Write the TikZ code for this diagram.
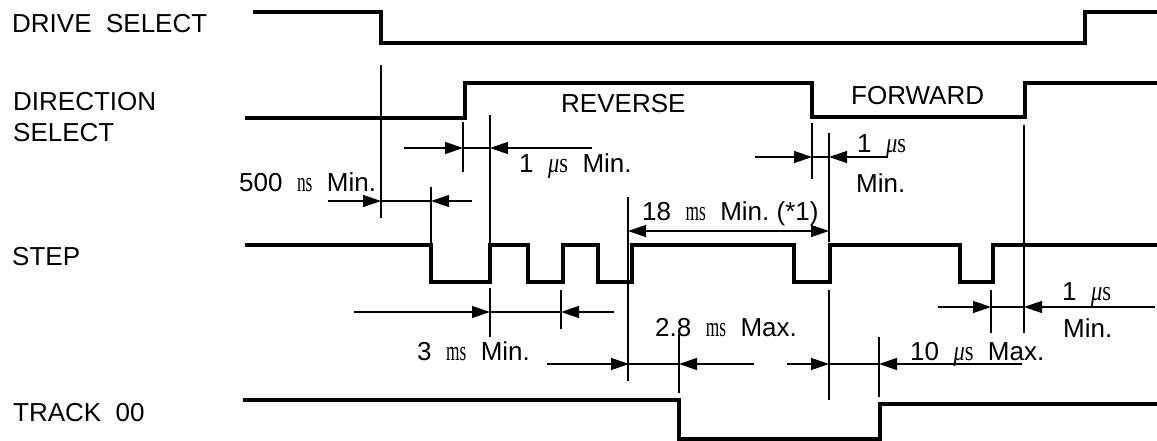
\documentclass[tikz,border=0pt]{standalone}
\usepackage{fontspec}
\setmainfont{Liberation Sans}
\newfontfamily\unitfont{Liberation Serif}
\usepackage{graphicx}
\usetikzlibrary{arrows.meta}

\newcommand{\unitms}{\scalebox{0.62}[1]{\unitfont\fontsize{28}{28}\selectfont ms}}
\newcommand{\unitns}{\scalebox{0.62}[1]{\unitfont\fontsize{28}{28}\selectfont ns}}
\newcommand{\unitus}{\scalebox{0.8}[1]{\unitfont\fontsize{28}{28}\selectfont\itshape μ\upshape s}}

\begin{document}
\begin{tikzpicture}[x=1pt,y=-1pt,
    sig/.style={line width=3.6pt},
    dim/.style={line width=1.3pt},
    tip/.style={dim,-{Triangle[length=18pt,width=12pt]}},
    lbl/.style={anchor=base west,inner sep=0pt,font=\fontsize{26}{30}\selectfont}]

    \useasboundingbox (0,0) rectangle (1157,441);

    % signal names
    \node[lbl] (drive) at (12,33) {DRIVE\ \ SELECT};
    \node[lbl] (dir) at (13,111) {DIRECTION};
    \node[lbl] (dirsel) at (13,142) {SELECT};
    \node[lbl] (step) at (12,265) {STEP};
    \node[lbl] (track) at (13,421) {TRACK\ \ 00};

    % waveforms
    \draw[sig] (253,12) -- (381,12) -- (381,43) -- (1085,43) -- (1085,12) -- (1157,12);
    \draw[sig] (245,118) -- (465,118) -- (465,83) -- (812,83) -- (812,117)
        -- (1025,117) -- (1025,83) -- (1157,83);
    \draw[sig] (245,245) foreach \a/\b in {431/490,528/563,598/632,794/830,960/993} {
        -- (\a,245) -- (\a,282) -- (\b,282) -- (\b,245) } -- (1157,245);
    \draw[sig] (243,400) -- (679,400) -- (679,439) -- (880,439) -- (880,404) -- (1157,404);

    \node[lbl] (rev) at (561,113) {REVERSE};
    \node[lbl] (fwd) at (851,105) {FORWARD};

    % extension lines
    \foreach \x/\ya/\yb in {381/65/218, 431/187/243, 463/122/172, 490/115/243,
        812/123/179, 829/133/242, 628/197/381, 1024/125/333, 490/288/337,
        561/290/329, 679/334/393, 829/290/400, 879/337/397, 991/290/333} {
        \draw[dim] (\x,\ya) -- (\x,\yb);
    }

    % dimension arrows pointing inwards
    \foreach \y/\a/\b/\c/\d in {201/328/381/431/472, 148/404/463/490/592,
        157/755/812/829/888, 312/354/490/561/614, 364/547/629/679/754,
        364/787/829/879/1022, 307/938/991/1024/1155} {
        \draw[tip] (\a,\y) -- (\b,\y);
        \draw[dim] (\b,\y) -- (\c,\y);
        \draw[tip] (\d,\y) -- (\c,\y);
    }
    \draw[dim,{Triangle[length=18pt,width=12pt]}-{Triangle[length=18pt,width=12pt]}] (628,231) -- (829,231);

    % timing values
    \node[lbl] (t500) at (239,192) {500\ \ \unitns\ \ Min.};
    \node[lbl] (t1a) at (519,173) {1\ \ \unitus\ \ Min.};
    \node[lbl] (t1b) at (857,153) {1\ \ \unitus};
    \node[lbl] (t1bmin) at (856,193) {Min.};
    \node[lbl] (t18) at (642,220) {18\ \ \unitms\ \ Min.\ (*1)};
    \node[lbl] (t3) at (417,360) {3\ \ \unitms\ \ Min.};
    \node[lbl] (t28) at (655,336) {2.8\ \ \unitms\ \ Max.};
    \node[lbl] (t10) at (910,360) {10\ \ \unitus\ \ Max.};
    \node[lbl] (t1c) at (1062,300) {1\ \ \unitus};
    \node[lbl] (t1cmin) at (1063,337) {Min.};
\end{tikzpicture}
\end{document}
